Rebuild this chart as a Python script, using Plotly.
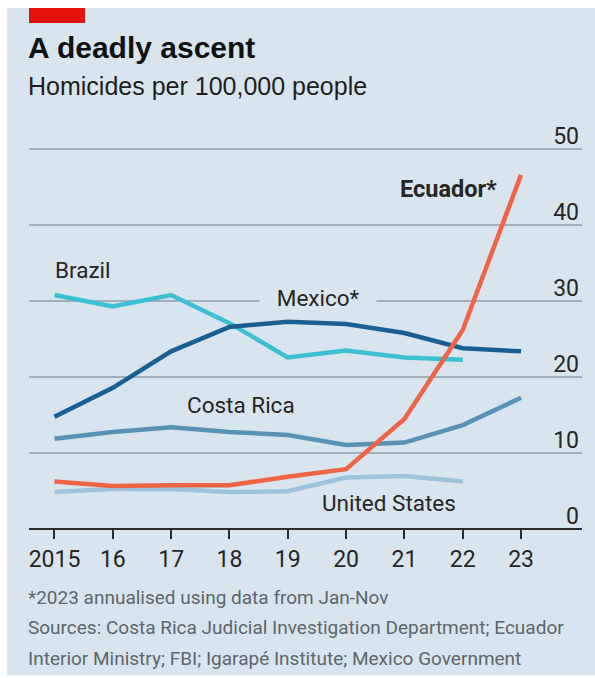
import plotly.graph_objects as go

W, H = 595, 678

years = [2015, 2016, 2017, 2018, 2019, 2020, 2021, 2022, 2023]
year_labels = ["2015", "16", "17", "18", "19", "20", "21", "22", "23"]

brazil = [30.8, 29.3, 30.8, 27.1, 22.6, 23.5, 22.6, 22.3]
mexico = [14.8, 18.6, 23.4, 26.6, 27.3, 27.0, 25.8, 23.8, 23.4]
costa_rica = [11.9, 12.8, 13.4, 12.8, 12.4, 11.1, 11.4, 13.7, 17.3]
ecuador = [6.3, 5.7, 5.8, 5.8, 6.9, 7.9, 14.5, 26.2, 46.6]
united_states = [4.9, 5.3, 5.3, 4.9, 5.0, 6.8, 7.0, 6.3]

y_ticks = [0, 10, 20, 30, 40, 50]

title = "A deadly ascent"
subtitle = "Homicides per 100,000 people"
footnotes = [
    "*2023 annualised using data from Jan-Nov",
    "Sources: Costa Rica Judicial Investigation Department; Ecuador",
    "Interior Ministry; FBI; Igarapé Institute; Mexico Government",
]

BG = "#d8e5ee"
NARROW = "Roboto, sans-serif"
REG = "Liberation Sans, Arial, sans-serif"
TXT = "#262626"
GREY = "#5c666d"

C_US = "#9dc2d9"
C_CR = "#5893b5"
C_BR = "#3dbfd3"
C_MX = "#1b5f92"
C_EC = "#ef6445"

Y_PX0 = 529.3          # pixel row of value 0
Y_PX_PER = 7.606       # pixels per unit
Y_TOP = 54             # top of plotting range (room for the "50" label)
Y_BOT = -3             # bottom of plotting range (room for the "0" label)


def px(x):
    return x / W


def py(y):
    return 1 - y / H


fig = go.Figure()
series = [
    ("United States", years[:8], united_states, C_US),
    ("Costa Rica", years, costa_rica, C_CR),
    ("Brazil", years[:8], brazil, C_BR),
    ("Mexico", years, mexico, C_MX),
    ("Ecuador", years, ecuador, C_EC),
]
for name, xs, ys, col in series:
    fig.add_trace(go.Scatter(x=xs, y=ys, mode="lines", name=name,
                             line=dict(color=col, width=4.5), hoverinfo="skip"))

shapes = [
    dict(type="rect", xref="paper", yref="paper", x0=px(7), x1=px(595), y0=py(675), y1=py(8),
         fillcolor=BG, line=dict(width=0), layer="below"),
    dict(type="rect", xref="paper", yref="paper", x0=px(29), x1=px(85), y0=py(23), y1=py(8),
         fillcolor="#e3120b", line=dict(width=0), layer="below"),
]

annotations = [
    dict(text="<b>" + title + "</b>", x=px(26), y=py(47.5), xref="paper", yref="paper",
         xanchor="left", yanchor="middle", showarrow=False,
         font=dict(family=REG, size=30, color="#111111")),
    dict(text=subtitle, x=px(26), y=py(86), xref="paper", yref="paper",
         xanchor="left", yanchor="middle", showarrow=False,
         font=dict(family=REG, size=25, color="#1e1e1e")),
]
for i, t in enumerate(footnotes):
    annotations.append(dict(text=t, x=px(26), y=py(597 + 30.5 * i), xref="paper", yref="paper",
                            xanchor="left", yanchor="middle", showarrow=False,
                            font=dict(family=NARROW, size=19, color=GREY)))

lab_font = dict(family=NARROW, size=22.5, color=TXT)
annotations += [
    dict(text="Brazil", x=2014.98, y=34.1, xanchor="left", yanchor="middle", showarrow=False, font=lab_font),
    dict(text="&nbsp;&nbsp;&nbsp;Mexico*&nbsp;&nbsp;&nbsp;", x=2019.52, y=30.4, xanchor="center",
         yanchor="middle", showarrow=False, font=lab_font, bgcolor=BG, borderpad=0),
    dict(text="<b>Ecuador*</b>", x=2022.63, y=44.7, xanchor="right", yanchor="middle", showarrow=False,
         font=dict(family=NARROW, size=23.5, color=TXT)),
    dict(text="Costa Rica", x=2017.24, y=16.3, xanchor="left", yanchor="middle", showarrow=False, font=lab_font),
    dict(text="United States", x=2019.55, y=3.5, xanchor="left", yanchor="middle", showarrow=False, font=lab_font),
]

fig.update_layout(
    width=W, height=H,
    margin=dict(l=0, r=0, t=0, b=0),
    paper_bgcolor="white",
    plot_bgcolor="rgba(0,0,0,0)",
    showlegend=False,
    shapes=shapes,
    annotations=annotations,
    xaxis=dict(
        domain=[px(29), px(582)], range=[2014.563, 2024.045],
        anchor="free", position=py(Y_PX0),
        tickvals=years, ticktext=year_labels, showgrid=False, zeroline=False,
        showline=True, linecolor="#2b2b2b", linewidth=2,
        ticks="outside", ticklen=9, tickwidth=2, tickcolor="#2b2b2b",
        tickfont=dict(family=NARROW, size=23, color=TXT),
    ),
    yaxis=dict(
        domain=[py(Y_PX0 - Y_BOT * Y_PX_PER), py(Y_PX0 - Y_TOP * Y_PX_PER)],
        range=[Y_BOT, Y_TOP], tickvals=y_ticks,
        side="right", ticklabelposition="inside", ticks="", showline=False,
        showgrid=True, gridcolor="#a3afb8", gridwidth=1.5, zeroline=False,
        ticklabelshift=-13, ticklabelstandoff=0,
        tickfont=dict(family=NARROW, size=23, color=TXT),
    ),
)

fig.write_html("out.html")
